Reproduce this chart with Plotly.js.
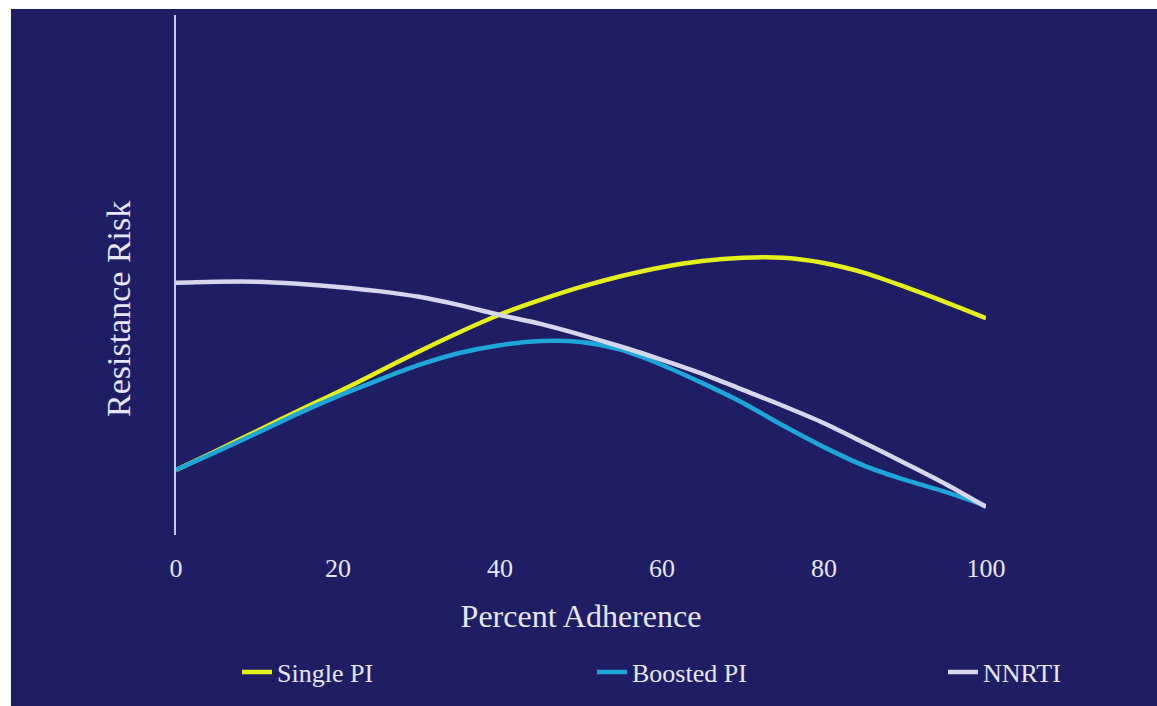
<!DOCTYPE html>
<html>
<head>
<meta charset="utf-8">
<script src="https://cdn.plot.ly/plotly-3.0.1.min.js"></script>
<style>
  html, body { margin: 0; padding: 0; background: #ffffff; width: 1157px; height: 706px; overflow: hidden; }
  #chart { position: absolute; left: 11px; top: 9px; width: 1146px; height: 697px; }
</style>
</head>
<body>
<div id="chart"></div>
<script>
// Percent adherence (x) and relative resistance risk (y, arbitrary 0-100 scale)
const adherence = [0, 5, 10, 15, 20, 25, 30, 35, 40, 45, 50, 55, 60, 65, 70, 75, 80, 85, 90, 95, 100];
const singlePI  = [12.5, 16.2, 20.0, 23.8, 27.5, 31.4, 35.3, 39.0, 42.4, 45.2, 47.7, 49.8, 51.5, 52.7, 53.3, 53.3, 52.3, 50.4, 47.7, 44.8, 41.7];
const boostedPI = [12.5, 16.0, 19.6, 23.3, 26.7, 29.8, 32.7, 35.0, 36.5, 37.3, 37.1, 35.6, 32.7, 29.2, 25.4, 21.0, 16.9, 13.3, 10.6, 8.3, 5.6];
const nnrti     = [48.5, 48.7, 48.7, 48.3, 47.7, 46.9, 45.8, 44.2, 42.3, 40.6, 38.5, 36.2, 33.7, 31.0, 27.9, 24.8, 21.5, 17.7, 13.8, 9.8, 5.4];
const tickVals  = [0, 20, 40, 60, 80, 100];
const tickText  = ["0", "20", "40", "60", "80", "100"];
const seriesNames = ["Single PI", "Boosted PI", "NNRTI"];

const bg = "#1f1e65";
const textColor = "#e6e6f4";
const serif = "Liberation Serif";

const traces = [
  { x: adherence, y: singlePI, name: seriesNames[0], mode: "lines", legend: "legend",
    line: { color: "#e4ef1c", width: 4.5, shape: "spline", smoothing: 0.8 } },
  { x: adherence, y: boostedPI, name: seriesNames[1], mode: "lines", legend: "legend2",
    line: { color: "#1ea6da", width: 4.5, shape: "spline", smoothing: 0.8 } },
  { x: adherence, y: nnrti, name: seriesNames[2], mode: "lines", legend: "legend3",
    line: { color: "#d6d6ec", width: 4.5, shape: "spline", smoothing: 0.8 } }
];

function legendAt(xp) {
  return {
    x: xp, y: -0.2635, xanchor: "left", yanchor: "middle", orientation: "h",
    bgcolor: "rgba(0,0,0,0)", borderwidth: 0,
    font: { family: serif, size: 26, color: textColor },
    itemclick: false, itemdoubleclick: false
  };
}

const layout = {
  width: 1146, height: 697,
  margin: { l: 165, r: 171, t: 6, b: 171 },
  paper_bgcolor: bg, plot_bgcolor: bg,
  showlegend: true,
  font: { family: serif, color: textColor, size: 26 },
  xaxis: {
    range: [0, 100], tickvals: tickVals, ticktext: tickText,
    showgrid: false, zeroline: false, showline: false,
    ticks: "outside", ticklen: 10, tickcolor: "rgba(0,0,0,0)",
    tickfont: { family: serif, size: 26, color: textColor },
    title: { text: "Percent Adherence", font: { family: serif, size: 32, color: textColor }, standoff: 22 },
    fixedrange: true
  },
  yaxis: {
    range: [0, 100], showticklabels: false, showgrid: false, zeroline: false,
    showline: true, linecolor: "#c9c9f0", linewidth: 2, ticks: "",
    fixedrange: true
  },
  annotations: [{
    text: "Resistance Risk", xref: "paper", yref: "paper",
    x: -0.0716, y: 0.4346, xanchor: "center", yanchor: "middle",
    textangle: -90, showarrow: false,
    font: { family: serif, size: 34, color: textColor }
  }],
  legend: legendAt(0.0753),
  legend2: legendAt(0.5136),
  legend3: legendAt(0.9469)
};

Plotly.newPlot("chart", traces, layout, { displayModeBar: false, staticPlot: true });
</script>
</body>
</html>
